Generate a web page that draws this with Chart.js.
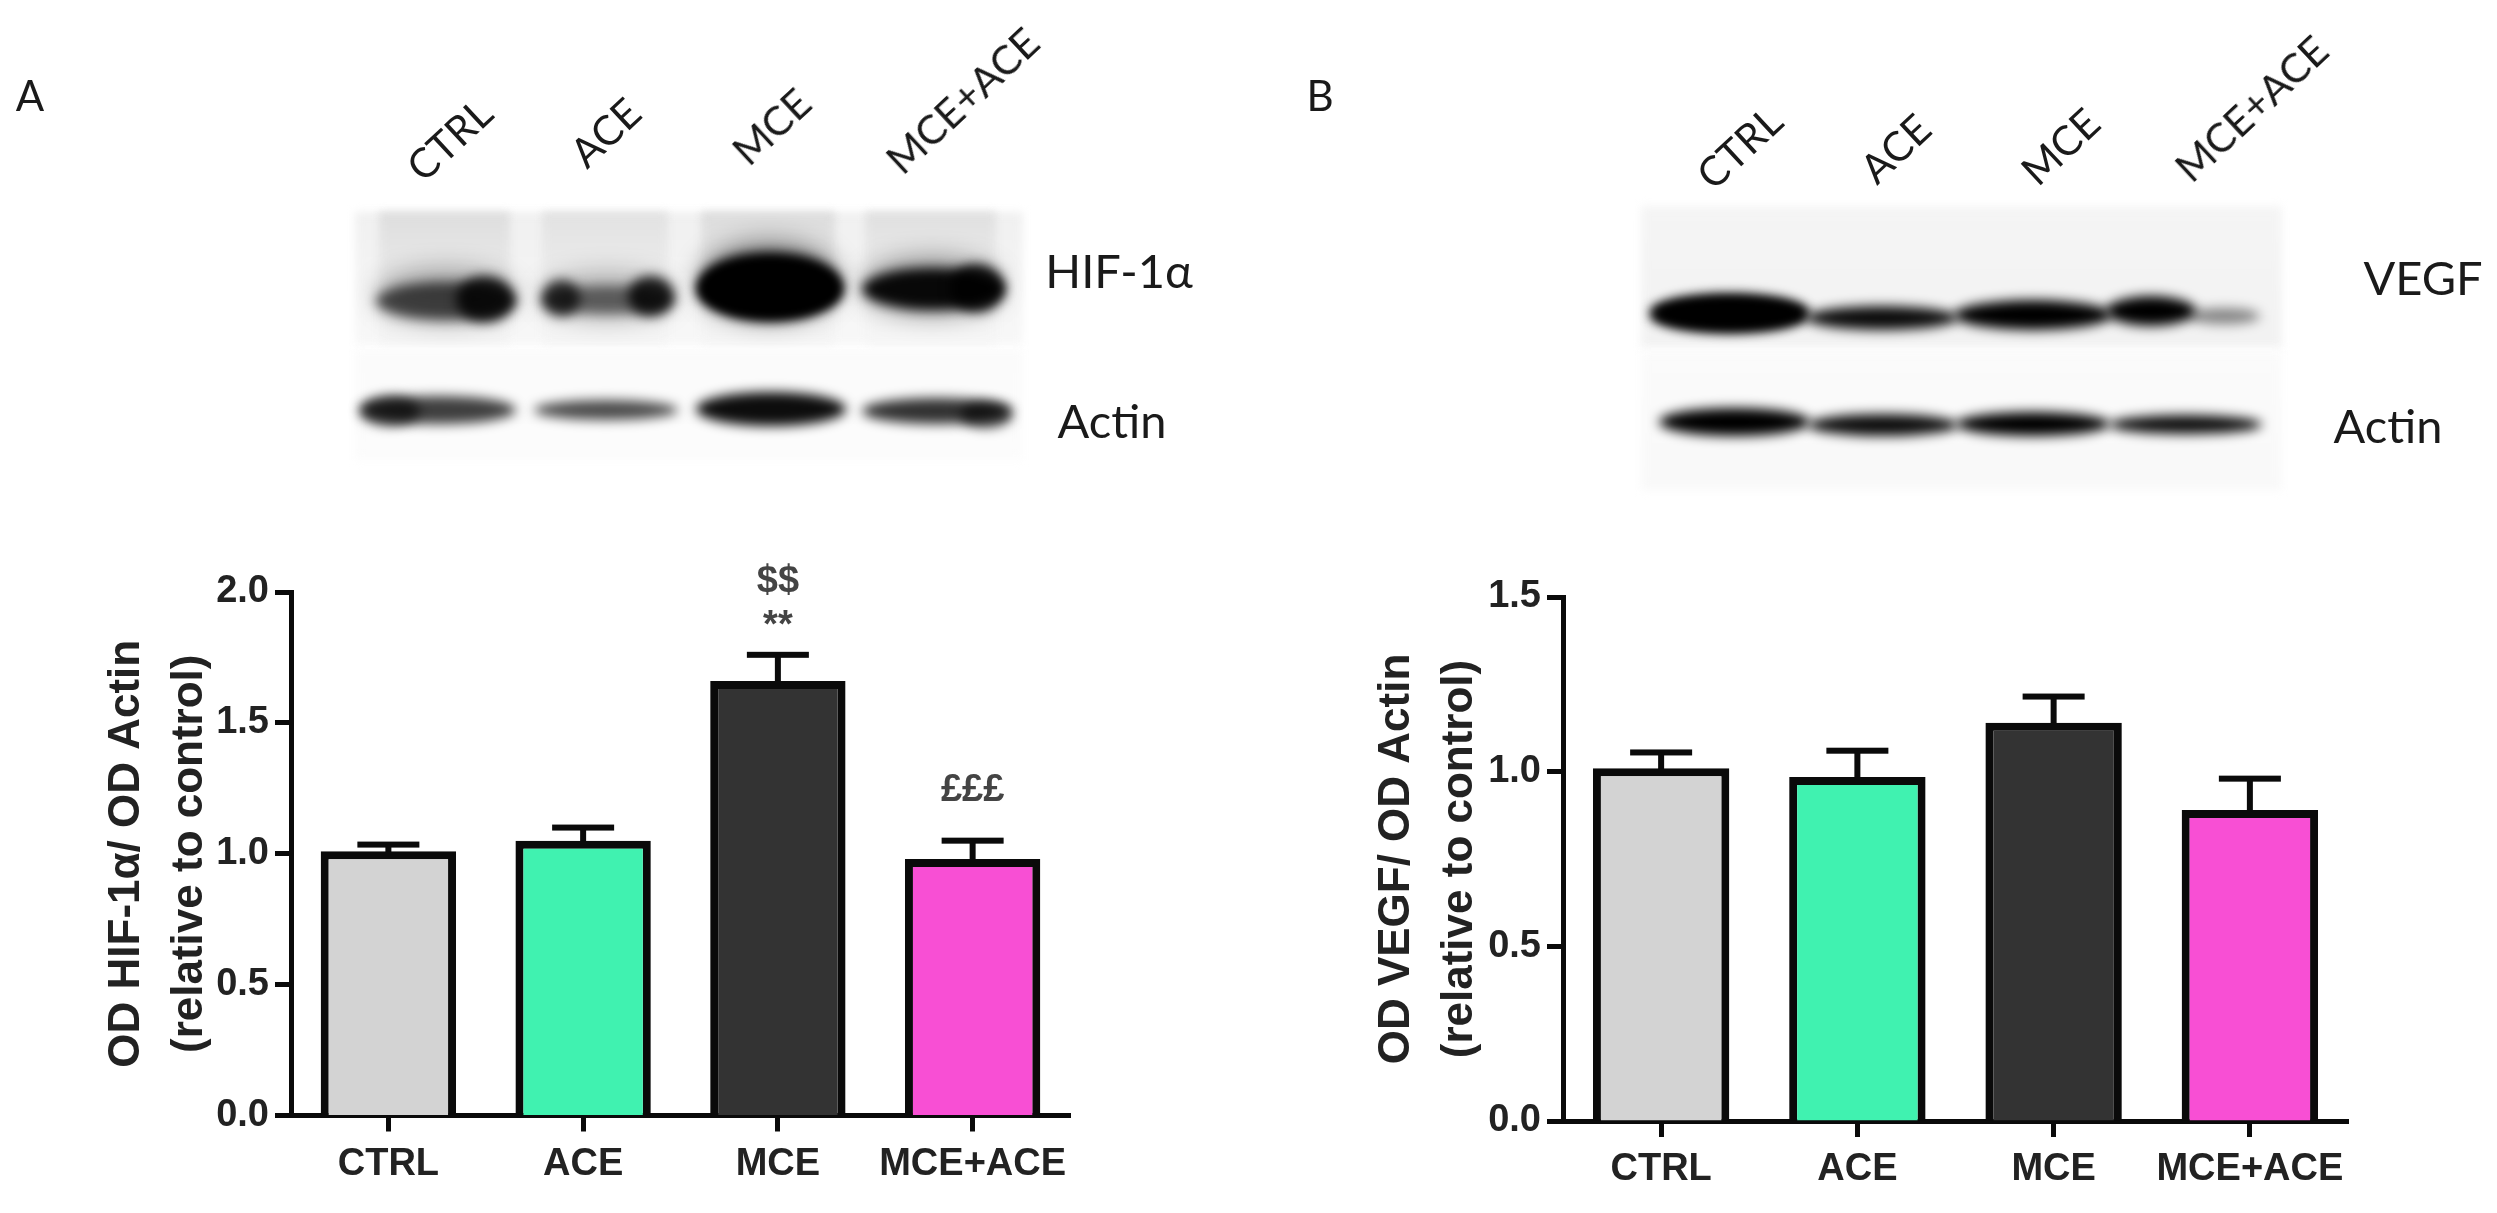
<!DOCTYPE html>
<html>
<head>
<meta charset="utf-8">
<title>HIF-1α and VEGF</title>
<script src="https://cdn.jsdelivr.net/npm/chart.js@4/dist/chart.umd.min.js"></script>
<style>
  html, body { margin: 0; background: #fff; overflow: hidden; }
  #page { position: relative; width: 2497px; height: 1213px; }
  canvas { position: absolute; }
  .txt { position: absolute; font-family: Lato, sans-serif; font-size: 42px; color: #1a1a1a; white-space: nowrap; line-height: 1; transform: translate(-50%, -50%); }
  .rot { transform: translate(-50%, -50%) rotate(-43deg); font-size: 41px; }
  .big { font-size: 47px; }
</style>
</head>
<body>
<div id="page">
  <canvas id="blots" width="2497" height="520" style="left:0;top:0"></canvas>
  <canvas id="chartA" width="1004" height="660" style="left:96px;top:540px"></canvas>
  <canvas id="chartB" width="1014" height="660" style="left:1366px;top:540px"></canvas>

  <div class="txt" style="left:30px;top:95px">A</div>
  <div class="txt" style="left:1320px;top:95px">B</div>

  <div class="txt rot" style="left:449px;top:139px">CTRL</div>
  <div class="txt rot" style="left:605px;top:132px">ACE</div>
  <div class="txt rot" style="left:771px;top:126px">MCE</div>
  <div class="txt rot" style="left:962px;top:100px">MCE+ACE</div>
  <div class="txt big" style="left:1119px;top:270px">HIF-1α</div>
  <div class="txt big" style="left:1112px;top:420px">Actin</div>

  <div class="txt rot" style="left:1739px;top:147px">CTRL</div>
  <div class="txt rot" style="left:1895px;top:148px">ACE</div>
  <div class="txt rot" style="left:2060px;top:146px">MCE</div>
  <div class="txt rot" style="left:2251px;top:108px">MCE+ACE</div>
  <div class="txt big" style="left:2423px;top:277px">VEGF</div>
  <div class="txt big" style="left:2388px;top:425px">Actin</div>
</div>

<script>
const categories = ['CTRL', 'ACE', 'MCE', 'MCE+ACE'];
const barColors = ['#d3d3d3', '#40f2b0', '#333333', '#f84fd4'];

const hifValues = [1.01, 1.05, 1.66, 0.98];
const hifErrorTops = [1.035, 1.10, 1.76, 1.05];
const hifMarks = [[], [], [['$$', 2.04], ['**', 1.87]], [['£££', 1.24]]];

const vegfValues = [1.01, 0.985, 1.14, 0.89];
const vegfErrorTops = [1.055, 1.06, 1.215, 0.98];
const vegfMarks = [[], [], [], []];

const INK = '#0a0a0a';

// error bars and significance marks sit on the chart's own scales
function overlayPlugin(errorTops, marks) {
    return {
        id: 'overlay',
        beforeDatasetsDraw(chart) {
            const { x, y } = chart.scales;
            const ctx = chart.ctx;
            ctx.save();
            ctx.fillStyle = INK;
            errorTops.forEach((top, i) => {
                const px = x.getPixelForValue(i);
                const py = y.getPixelForValue(top);
                ctx.fillRect(px - 31, py - 3, 62, 6);
                ctx.fillRect(px - 3, py, 6, y.getPixelForValue(chart.data.datasets[0].data[i]) - py + 3);
            });
            ctx.restore();
        },
        afterDraw(chart) {
            const { x, y } = chart.scales;
            const ctx = chart.ctx;
            ctx.save();
            ctx.fillStyle = '#444';
            ctx.font = 'bold 38px "Liberation Sans"';
            ctx.textAlign = 'center';
            ctx.textBaseline = 'middle';
            marks.forEach((list, i) => {
                list.forEach(([text, value]) => {
                    ctx.fillText(text, x.getPixelForValue(i), y.getPixelForValue(value));
                });
            });
            ctx.restore();
        }
    };
}

function barChart(id, values, errorTops, marks, yMax, yTitle, frame) {
    return new Chart(document.getElementById(id), {
        type: 'bar',
        data: {
            labels: categories,
            datasets: [{
                data: values,
                backgroundColor: barColors,
                borderColor: INK,
                borderWidth: 8,
                borderSkipped: 'bottom',
                categoryPercentage: 1,
                barPercentage: 0.695
            }]
        },
        options: {
            responsive: false,
            animation: false,
            layout: { padding: { top: frame.top, right: frame.right, left: 0, bottom: 0 } },
            plugins: { legend: { display: false }, tooltip: { enabled: false } },
            scales: {
                x: {
                    afterFit: s => { s.height = frame.xHeight; },
                    grid: { offset: false, drawOnChartArea: false, tickLength: 16, tickWidth: 5, tickColor: INK },
                    border: { color: INK, width: 5 },
                    ticks: { color: '#222', padding: 10, maxRotation: 0, font: { size: 38, weight: 'bold', family: 'Liberation Sans' } }
                },
                y: {
                    min: 0,
                    max: yMax,
                    afterFit: s => { s.width = frame.yWidth; },
                    grid: { drawOnChartArea: false, tickLength: 16, tickWidth: 5, tickColor: INK },
                    border: { color: INK, width: 5 },
                    ticks: {
                        stepSize: 0.5,
                        color: '#222',
                        padding: 6,
                        font: { size: 38, weight: 'bold', family: 'Liberation Sans' },
                        callback: v => v.toFixed(1)
                    },
                    title: {
                        display: true,
                        text: yTitle,
                        color: '#222',
                        padding: 0,
                        font: { size: 44, weight: 'bold', family: 'Liberation Sans', lineHeight: 1.42 }
                    }
                }
            }
        },
        plugins: [overlayPlugin(errorTops, marks)]
    });
}

barChart('chartA', hifValues, hifErrorTops, hifMarks, 2.0,
    ['OD HIF-1α/ OD Actin', '(relative to control)'],
    { top: 52, right: 30, xHeight: 84.5, yWidth: 195 });

barChart('chartB', vegfValues, vegfErrorTops, vegfMarks, 1.5,
    ['OD VEGF/ OD Actin', '(relative to control)'],
    { top: 57, right: 32, xHeight: 79, yWidth: 197 });

// ── Western blot photos, painted freehand behind the charts ──
const blot = document.getElementById('blots').getContext('2d');

function lane(x0, x1, y0, y1, topShade, bottomShade) {
    const g = blot.createLinearGradient(0, y0, 0, y1);
    g.addColorStop(0, topShade);
    g.addColorStop(1, bottomShade);
    blot.fillStyle = g;
    blot.fillRect(x0, y0, x1 - x0, y1 - y0);
}

function band(x0, x1, y0, y1, alpha) {
    blot.fillStyle = 'rgba(0,0,0,' + alpha + ')';
    blot.beginPath();
    blot.ellipse((x0 + x1) / 2, (y0 + y1) / 2, (x1 - x0) / 2, (y1 - y0) / 2, 0, 0, Math.PI * 2);
    blot.fill();
}

// panel A backdrop
blot.filter = 'blur(4px)';
lane(355, 1023, 212, 345, '#f0f0f0', '#f8f8f8');
lane(379, 510, 212, 345, '#dedede', '#f5f5f5');
lane(542, 668, 212, 345, '#e2e2e2', '#f6f6f6');
lane(701, 835, 212, 345, '#dcdcdc', '#f6f6f6');
lane(865, 996, 212, 345, '#e0e0e0', '#f7f7f7');
lane(355, 1023, 350, 460, '#fbfbfb', '#fcfcfc');

// panel B backdrop
lane(1641, 2282, 206, 348, '#f5f5f5', '#f2f2f2');
lane(1641, 2282, 350, 490, '#fbfbfb', '#f9f9f9');

// haze above the heavy bands
blot.filter = 'blur(12px)';
band(376, 516, 268, 322, 0.3);
band(540, 674, 272, 320, 0.25);
band(698, 840, 240, 322, 0.4);
band(862, 1002, 256, 316, 0.35);

blot.filter = 'blur(6px)';
// HIF-1a bands
band(376, 516, 282, 320, 0.65);
band(456, 514, 276, 322, 0.85);
band(542, 674, 286, 314, 0.5);
band(542, 580, 280, 316, 0.75);
band(628, 674, 276, 316, 0.85);
band(698, 842, 252, 320, 1);
band(698, 842, 262, 318, 1);
band(862, 1004, 268, 310, 0.95);
band(950, 1004, 264, 312, 0.85);
// A actin bands
band(360, 516, 396, 424, 0.75);
band(360, 420, 396, 426, 0.65);
band(534, 678, 400, 420, 0.7);
band(696, 846, 392, 426, 0.95);
band(862, 1012, 398, 424, 0.8);
band(960, 1012, 402, 428, 0.65);

// VEGF bands
band(1651, 1808, 294, 332, 1);
band(1651, 1808, 298, 330, 1);
band(1806, 1958, 306, 330, 0.95);
band(1954, 2112, 300, 330, 1);
band(2106, 2196, 296, 326, 1);
band(2188, 2260, 308, 324, 0.45);
// B actin bands
band(1659, 1810, 408, 436, 1);
band(1808, 1958, 414, 436, 0.95);
band(1956, 2110, 412, 436, 1);
band(2109, 2262, 415, 434, 0.95);
blot.filter = 'none';
</script>
</body>
</html>
